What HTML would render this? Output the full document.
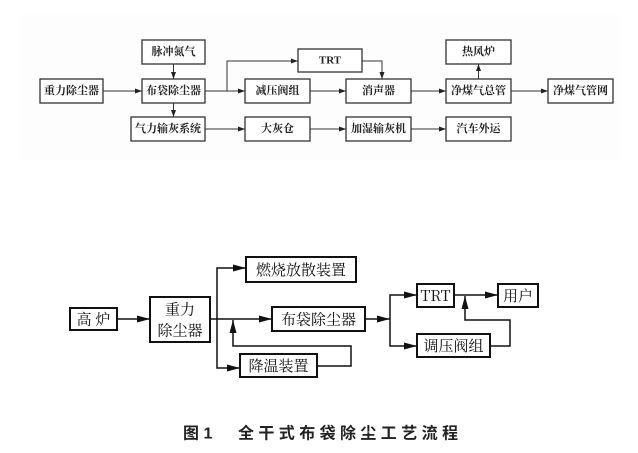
<!DOCTYPE html>
<html><head><meta charset="utf-8"><style>
html,body{margin:0;padding:0;background:#fff;width:638px;height:453px;overflow:hidden}
svg{display:block}
.t{font-family:"Liberation Serif","Noto Serif CJK SC",serif;font-weight:bold;font-size:11px;fill:#222;text-anchor:middle;dominant-baseline:central}
.b{font-family:"Noto Serif CJK SC","Liberation Serif",serif;font-size:15px;fill:#111;text-anchor:middle;dominant-baseline:central}
.c{font-family:"Liberation Sans","Noto Sans CJK SC",sans-serif;font-weight:bold;font-size:16px;fill:#222;dominant-baseline:central}
</style></head><body>
<svg width="638" height="453" viewBox="0 0 638 453">
<defs>
<marker id="a" markerWidth="8" markerHeight="6" refX="7" refY="3" orient="auto" markerUnits="userSpaceOnUse"><path d="M0,0.5 L7,3 L0,5.5z" fill="#222"/></marker>
<marker id="b" markerWidth="14" markerHeight="8" refX="13" refY="4" orient="auto" markerUnits="userSpaceOnUse"><path d="M0,0.5 L13,4 L0,7.5z" fill="#111"/></marker>
</defs>
<rect x="20" y="15" width="600" height="145" fill="#fdfdfd"/>
<g fill="#fff" stroke="#333" stroke-width="1.3">
<rect x="40" y="79" width="63" height="24"/>
<rect x="142" y="40" width="63" height="24"/>
<rect x="142" y="79" width="63" height="24"/>
<rect x="131" y="117" width="74" height="24"/>
<rect x="245" y="79" width="65" height="24"/>
<rect x="245" y="117" width="65" height="24"/>
<rect x="298" y="49" width="64" height="23"/>
<rect x="346" y="79" width="65" height="24"/>
<rect x="446" y="40" width="65" height="24"/>
<rect x="446" y="79" width="65" height="24"/>
<rect x="548" y="79" width="65" height="24"/>
<rect x="346" y="117" width="65" height="24"/>
<rect x="446" y="117" width="65" height="24"/>
</g>
<g class="t">
<text x="71.5" y="91">重力除尘器</text>
<text x="173.5" y="52">脉冲氮气</text>
<text x="173.5" y="91">布袋除尘器</text>
<text x="168" y="129">气力输灰系统</text>
<text x="277.5" y="91">减压阀组</text>
<text x="277.5" y="129">大灰仓</text>
<text x="330" y="60.5">TRT</text>
<text x="378.5" y="91">消声器</text>
<text x="478.5" y="52">热风炉</text>
<text x="478.5" y="91">净煤气总管</text>
<text x="580.5" y="91">净煤气管网</text>
<text x="378.5" y="129">加湿输灰机</text>
<text x="478.5" y="129">汽车外运</text>
</g>
<g stroke="#333" stroke-width="1" fill="none" marker-end="url(#a)">
<path d="M103,91 H142"/>
<path d="M173.5,64 V79"/>
<path d="M173.5,103 V117"/>
<path d="M205,91 H245"/>
<path d="M227,91 V61 H298"/>
<path d="M362,61 H382 V79"/>
<path d="M310,91 H346"/>
<path d="M411,91 H446"/>
<path d="M478.5,79 V64"/>
<path d="M511,91 H548"/>
<path d="M205,129 H245"/>
<path d="M310,129 H346"/>
<path d="M411,129 H446"/>
</g>
<g fill="#fff" stroke="#111" stroke-width="2">
<rect x="70" y="308" width="47" height="22"/>
<rect x="150" y="297" width="60" height="45"/>
<rect x="246" y="257" width="110" height="25"/>
<rect x="272" y="307" width="93" height="24"/>
<rect x="240" y="354" width="77" height="23"/>
<rect x="417" y="284" width="37" height="23"/>
<rect x="498" y="284" width="40" height="23"/>
<rect x="417" y="334" width="73" height="23"/>
</g>
<g class="b">
<text x="93.5" y="319">高 炉</text>
<text x="180" y="309">重力</text>
<text x="180" y="330">除尘器</text>
<text x="301" y="269.5">燃烧放散装置</text>
<text x="318.5" y="319">布袋除尘器</text>
<text x="278.5" y="365.5">降温装置</text>
<text x="435.5" y="295.5">TRT</text>
<text x="518" y="295.5">用户</text>
<text x="453.5" y="345.5">调压阀组</text>
</g>
<g stroke="#111" stroke-width="1.5" fill="none" marker-end="url(#b)">
<path d="M117,319 H150"/>
<path d="M210,319 H272"/>
<path d="M217,319 V268 H246"/>
<path d="M217,319 V368 H240"/>
<path d="M317,366 H351 V346 H233 V320"/>
<path d="M365,319 H390"/>
<path d="M390,319 V295 H417"/>
<path d="M390,319 V346 H417"/>
<path d="M454,295 H498"/>
<path d="M490,346 H510 V320 H465 V296"/>
</g>
<text class="c" x="183" y="434">图 1</text>
<text class="c" x="238" y="434" textLength="220">全干式布袋除尘工艺流程</text>
</svg>
</body></html>
